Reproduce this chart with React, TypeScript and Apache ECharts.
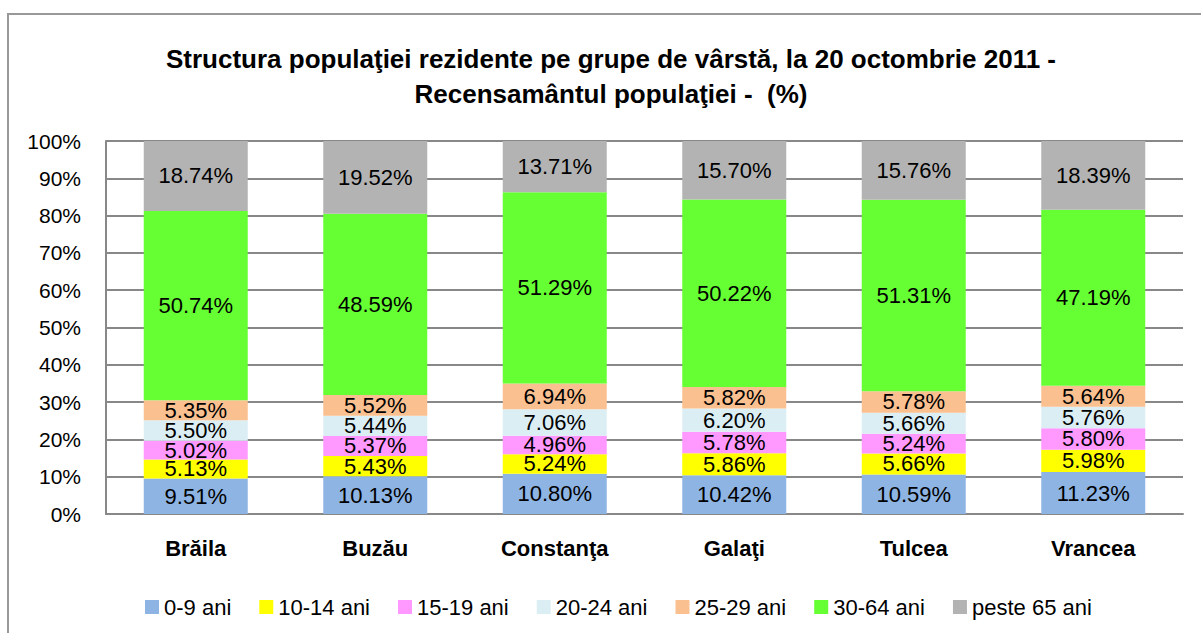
import React, { useEffect, useRef } from "react";
import * as echarts from "echarts";

const categories = ["Brăila", "Buzău", "Constanţa", "Galaţi", "Tulcea", "Vrancea"];
const seriesNames = ["0-9 ani", "10-14 ani", "15-19 ani", "20-24 ani", "25-29 ani", "30-64 ani", "peste 65 ani"];
const seriesColors = ["#8EB4E3", "#FFFF00", "#FF99FF", "#DBEEF4", "#FAC090", "#66FF33", "#B3B3B3"];

const age0_9 = [9.51, 10.13, 10.8, 10.42, 10.59, 11.23];
const age10_14 = [5.13, 5.43, 5.24, 5.86, 5.66, 5.98];
const age15_19 = [5.02, 5.37, 4.96, 5.78, 5.24, 5.8];
const age20_24 = [5.5, 5.44, 7.06, 6.2, 5.66, 5.76];
const age25_29 = [5.35, 5.52, 6.94, 5.82, 5.78, 5.64];
const age30_64 = [50.74, 48.59, 51.29, 50.22, 51.31, 47.19];
const age65plus = [18.74, 19.52, 13.71, 15.7, 15.76, 18.39];

const seriesValues = [age0_9, age10_14, age15_19, age20_24, age25_29, age30_64, age65plus];

const titleLines = [
  "Structura populaţiei rezidente pe grupe de vârstă, la 20 octombrie 2011 -",
  "Recensamântul populaţiei -  (%)",
];

const FONT = "'Liberation Sans', Arial, sans-serif";

export default function App() {
  const ref = useRef<HTMLDivElement>(null);
  useEffect(() => {
    document.body.style.margin = "0";
    const chart = echarts.init(ref.current!, null, { renderer: "svg" });
    chart.setOption({
      animation: false,
      backgroundColor: "#ffffff",
      textStyle: { fontFamily: FONT },
      graphic: [
        {
          type: "rect",
          shape: { x: 8, y: 14, width: 1300, height: 700 },
          style: { fill: "none", stroke: "#999999", lineWidth: 2 },
          silent: true,
        },
        {
          type: "text",
          x: 611,
          y: 41,
          style: {
            text: titleLines.join("\n"),
            fill: "#000",
            font: `bold 26px ${FONT}`,
            lineHeight: 35,
            textAlign: "center",
            textVerticalAlign: "top",
          },
        },
      ],
      legend: {
        left: 140,
        top: 591,
        itemWidth: 14,
        itemHeight: 14,
        itemGap: 28,
        icon: "rect",
        textStyle: { fontSize: 22, color: "#000", fontFamily: FONT },
        data: seriesNames,
      },
      grid: { left: 106, right: 18, top: 141, bottom: 119 },
      xAxis: {
        type: "category",
        data: categories,
        axisLine: { lineStyle: { color: "#888888", width: 2 } },
        axisTick: { show: false },
        axisLabel: { fontSize: 22, fontWeight: "bold", color: "#000", margin: 23, fontFamily: FONT },
      },
      yAxis: {
        type: "value",
        min: 0,
        max: 100,
        interval: 10,
        axisLine: { show: true, lineStyle: { color: "#888888", width: 2 } },
        axisTick: { show: false },
        axisLabel: { formatter: "{value}%", fontSize: 21, color: "#000", margin: 25, fontFamily: FONT },
        splitLine: { lineStyle: { color: "#888888", width: 2 } },
      },
      series: seriesNames.map((name, i) => ({
        name,
        type: "bar",
        stack: "total",
        barWidth: 104,
        data: seriesValues[i],
        itemStyle: { color: seriesColors[i] },
        label: {
          show: true,
          position: "inside",
          formatter: (p: any) => `${Number(p.value).toFixed(2)}%`,
          fontSize: 22,
          lineHeight: 18,
          color: "#000",
          fontFamily: FONT,
        },
      })),
    });
    return () => chart.dispose();
  }, []);
  return <div ref={ref} style={{ position: "fixed", left: 0, top: 0, width: 1201, height: 633 }} />;
}
